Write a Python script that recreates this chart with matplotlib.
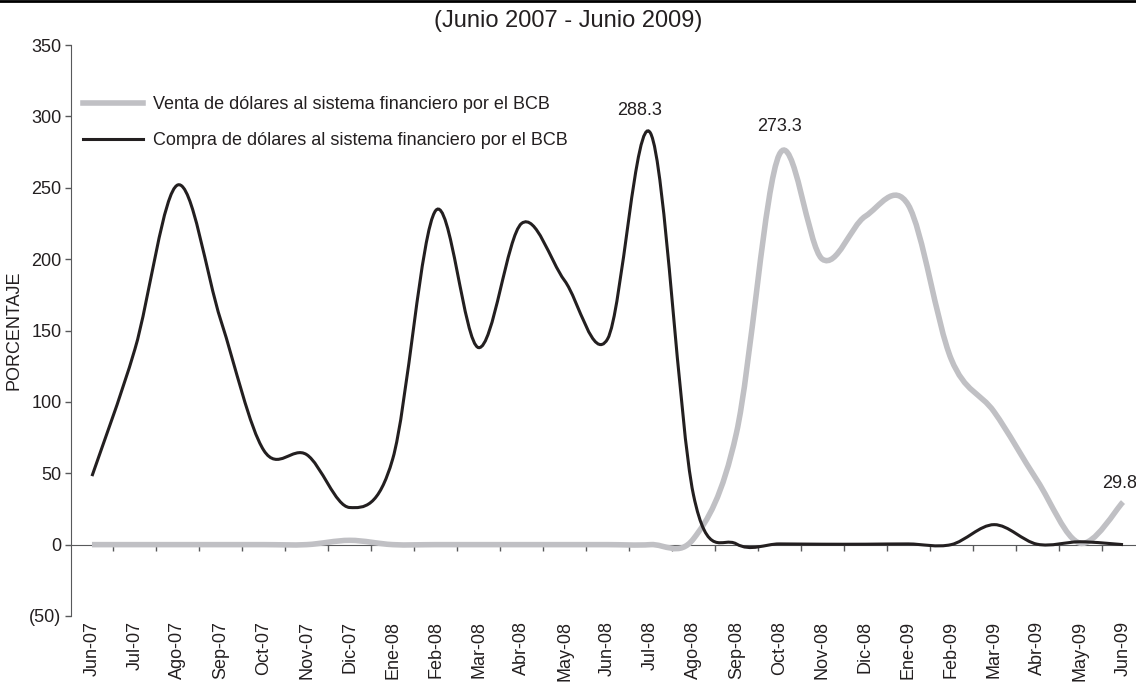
import numpy as np
import matplotlib
matplotlib.use("Agg")
import matplotlib.pyplot as plt
from matplotlib.path import Path
from matplotlib.patches import PathPatch
from matplotlib.lines import Line2D

plt.rcParams['font.family'] = ['Liberation Sans', 'DejaVu Sans']

meses = ['Jun-07', 'Jul-07', 'Ago-07', 'Sep-07', 'Oct-07', 'Nov-07', 'Dic-07',
         'Ene-08', 'Feb-08', 'Mar-08', 'Abr-08', 'May-08', 'Jun-08', 'Jul-08',
         'Ago-08', 'Sep-08', 'Oct-08', 'Nov-08', 'Dic-08', 'Ene-09', 'Feb-09',
         'Mar-09', 'Abr-09', 'May-09', 'Jun-09']

# venta de dolares (gris)
venta = [0, 0, 0, 0, 0, 0, 3, 0, 0, 0, 0, 0, 0, 0,
         4, 78, 273.3, 200, 230, 238, 130, 93, 45, 1, 29.8]

# compra de dolares (negro)
compra = [48, 137, 252, 157, 66, 63, 26, 60, 234, 138, 225, 185, 144, 288.3,
          35, 0.5, 0.5, 0.3, 0.3, 0.5, 0, 14, 0.3, 2, 0]

yticks = [-50, 0, 50, 100, 150, 200, 250, 300, 350]
ytick_labels = ['(50)', '0', '50', '100', '150', '200', '250', '300', '350']

# etiquetas de datos: (serie, indice, dx, dy) en pixeles
etiquetas = [('compra', 13, -11, 23), ('venta', 16, 0, 28), ('venta', 24, -3, 19)]

negro = '#231f20'
gris = '#c0c0c4'
eje = '#58595b'


def curva_suave(x, y):
    # suavizado tipo Excel: bezier cubica por tramos
    pts = np.column_stack([x, y]).astype(float)
    p = np.vstack([pts[0], pts, pts[-1]])
    verts = [pts[0]]
    codes = [Path.MOVETO]
    for i in range(len(pts) - 1):
        p0, p1, p2, p3 = p[i], p[i + 1], p[i + 2], p[i + 3]
        verts += [p1 + (p2 - p0) / 6, p2 - (p3 - p1) / 6, p2]
        codes += [Path.CURVE4] * 3
    return Path(verts, codes)


fig = plt.figure(figsize=(11.36, 6.84), dpi=100)
ax = fig.add_axes([70.5 / 1136, 68 / 684, 1074 / 1136, 571 / 684])

x = np.arange(len(meses))
ax.add_patch(PathPatch(curva_suave(x, venta), facecolor='none', edgecolor=gris,
                       lw=4.0, zorder=3))
ax.add_patch(PathPatch(curva_suave(x, compra), facecolor='none', edgecolor=negro,
                       lw=2.2, zorder=4))

ax.set_xlim(-0.5, len(meses) - 0.5)
ax.set_ylim(-50, 350)

for s in ['top', 'right']:
    ax.spines[s].set_visible(False)
ax.spines['bottom'].set_position(('data', 0))
ax.spines['bottom'].set_color(eje)
ax.spines['left'].set_color(eje)

ax.set_yticks(yticks, labels=ytick_labels)
ax.tick_params(axis='y', direction='out', length=4.5, width=1, color=eje,
               pad=2, labelsize=13, labelcolor=negro)
ax.set_xticks(np.arange(0.5, len(meses) - 0.5, 1))
ax.tick_params(axis='x', direction='out', length=4, width=1, color=eje,
               labelbottom=False)

sec = ax.secondary_xaxis('bottom')
sec.set_xticks(x, labels=meses, rotation=90)
sec.tick_params(length=0, pad=3.5, labelsize=13, labelcolor=negro)
sec.spines['bottom'].set_visible(False)

series = {'venta': venta, 'compra': compra}
for nombre, i, dx, dy in etiquetas:
    v = series[nombre][i]
    ax.annotate(f'{v:.1f}', xy=(i, v), xytext=(dx, dy), textcoords='offset pixels',
                ha='center', va='center', fontsize=13, color=negro)

handles = [Line2D([], [], color=gris, lw=4.0),
           Line2D([], [], color=negro, lw=2.2)]
ax.legend(handles, ['Venta de dólares al sistema financiero por el BCB',
                    'Compra de dólares al sistema financiero por el BCB'],
          loc='upper left', bbox_to_anchor=(83 / 1136, 1 - 96 / 684),
          bbox_transform=fig.transFigure, frameon=False, fontsize=13,
          handlelength=3.3, handletextpad=0.6, labelspacing=1.07,
          borderpad=0, borderaxespad=0, labelcolor=negro)

fig.text(14 / 1136, 1 - 330 / 684, 'PORCENTAJE', rotation=90, ha='center',
         va='center', fontsize=13, color=negro)
fig.text(0.5, 1 - 21 / 684, '(Junio 2007 - Junio 2009)', ha='center', va='center',
         fontsize=17, color=negro)
fig.add_artist(Line2D([0, 1], [0.999, 0.999], transform=fig.transFigure,
                      color='black', lw=2))

fig.savefig('out.png', dpi=100)
